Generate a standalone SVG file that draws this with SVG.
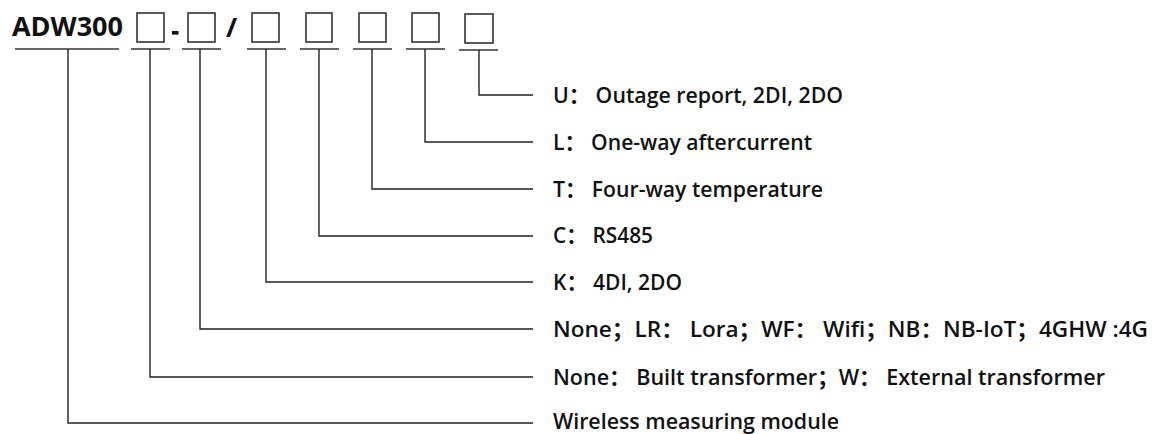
<svg xmlns="http://www.w3.org/2000/svg" width="1160" height="434" viewBox="0 0 1160 434">
<style>
.bg{fill:#ffffff}
.box{fill:none;stroke:#333;stroke-width:1.6}
.ul{stroke:#333;stroke-width:1.5}
.conn{fill:none;stroke:#222;stroke-width:1.4}
.title{font-family:"Open Sans","Noto Sans CJK SC",sans-serif;font-weight:700;font-size:27px;fill:#111}
.lbl{font-family:"Open Sans","Noto Sans CJK SC",sans-serif;font-weight:600;font-size:21px;fill:#111}
</style>
<rect class="bg" x="0" y="0" width="1160" height="434"/>
<g id="code">
  <g id="seg-model"><text class="title" x="12" y="36" textLength="111" lengthAdjust="spacingAndGlyphs">ADW300</text><line class="ul" x1="15" y1="49" x2="119" y2="49"/></g>
  <g id="seg-1"><rect class="box" x="137" y="13" width="27" height="29"/><line class="ul" x1="131" y1="49" x2="170" y2="49"/></g>
  <g id="sep-dash"><rect x="172" y="31" width="6.5" height="3.6" fill="#111"/></g>
  <g id="seg-2"><rect class="box" x="188" y="13" width="27" height="29"/><line class="ul" x1="182" y1="49" x2="221" y2="49"/></g>
  <g id="sep-slash"><text class="title" x="226" y="37" font-size="28">/</text></g>
  <g id="seg-3"><rect class="box" x="252" y="13" width="27" height="29"/><line class="ul" x1="247" y1="49" x2="286" y2="49"/></g>
  <g id="seg-4"><rect class="box" x="306" y="13" width="26" height="29"/><line class="ul" x1="300" y1="49" x2="339" y2="49"/></g>
  <g id="seg-5"><rect class="box" x="359" y="13" width="27" height="29"/><line class="ul" x1="353" y1="49" x2="392" y2="49"/></g>
  <g id="seg-6"><rect class="box" x="412" y="13" width="27" height="29"/><line class="ul" x1="406" y1="49" x2="445" y2="49"/></g>
  <g id="seg-7"><rect class="box" x="465" y="14" width="28" height="29"/><line class="ul" x1="459" y1="50" x2="498" y2="50"/></g>
</g>
<g id="connectors">
  <polyline class="conn" points="479,50 479,95 533,95"/>
  <polyline class="conn" points="425,49 425,142 533,142"/>
  <polyline class="conn" points="372,49 372,189 533,189"/>
  <polyline class="conn" points="319,49 319,236 533,236"/>
  <polyline class="conn" points="266,49 266,282 533,282"/>
  <polyline class="conn" points="200,49 200,329 533,329"/>
  <polyline class="conn" points="150,49 150,377 533,377"/>
  <polyline class="conn" points="68,49 68,423 533,423"/>
</g>
<g id="label-U"><text class="lbl" x="553" y="103" textLength="290" lengthAdjust="spacingAndGlyphs">U：  Outage report, 2DI, 2DO</text></g>
<g id="label-L"><text class="lbl" x="553" y="150" textLength="259" lengthAdjust="spacingAndGlyphs">L：  One-way aftercurrent</text></g>
<g id="label-T"><text class="lbl" x="553" y="197" textLength="270" lengthAdjust="spacingAndGlyphs">T：  Four-way temperature</text></g>
<g id="label-C"><text class="lbl" x="553" y="243" textLength="100" lengthAdjust="spacingAndGlyphs">C：  RS485</text></g>
<g id="label-K"><text class="lbl" x="553" y="290" textLength="129" lengthAdjust="spacingAndGlyphs">K：  4DI, 2DO</text></g>
<g id="label-comm"><text class="lbl" x="553" y="337" textLength="595" lengthAdjust="spacingAndGlyphs">None；LR：  Lora；WF：  Wifi；NB：NB-IoT；4GHW :4G</text></g>
<g id="label-ct"><text class="lbl" x="553" y="385" textLength="552" lengthAdjust="spacingAndGlyphs">None：  Built transformer；W：  External  transformer</text></g>
<g id="label-base"><text class="lbl" x="553" y="429" textLength="286" lengthAdjust="spacingAndGlyphs">Wireless measuring module</text></g>
</svg>
